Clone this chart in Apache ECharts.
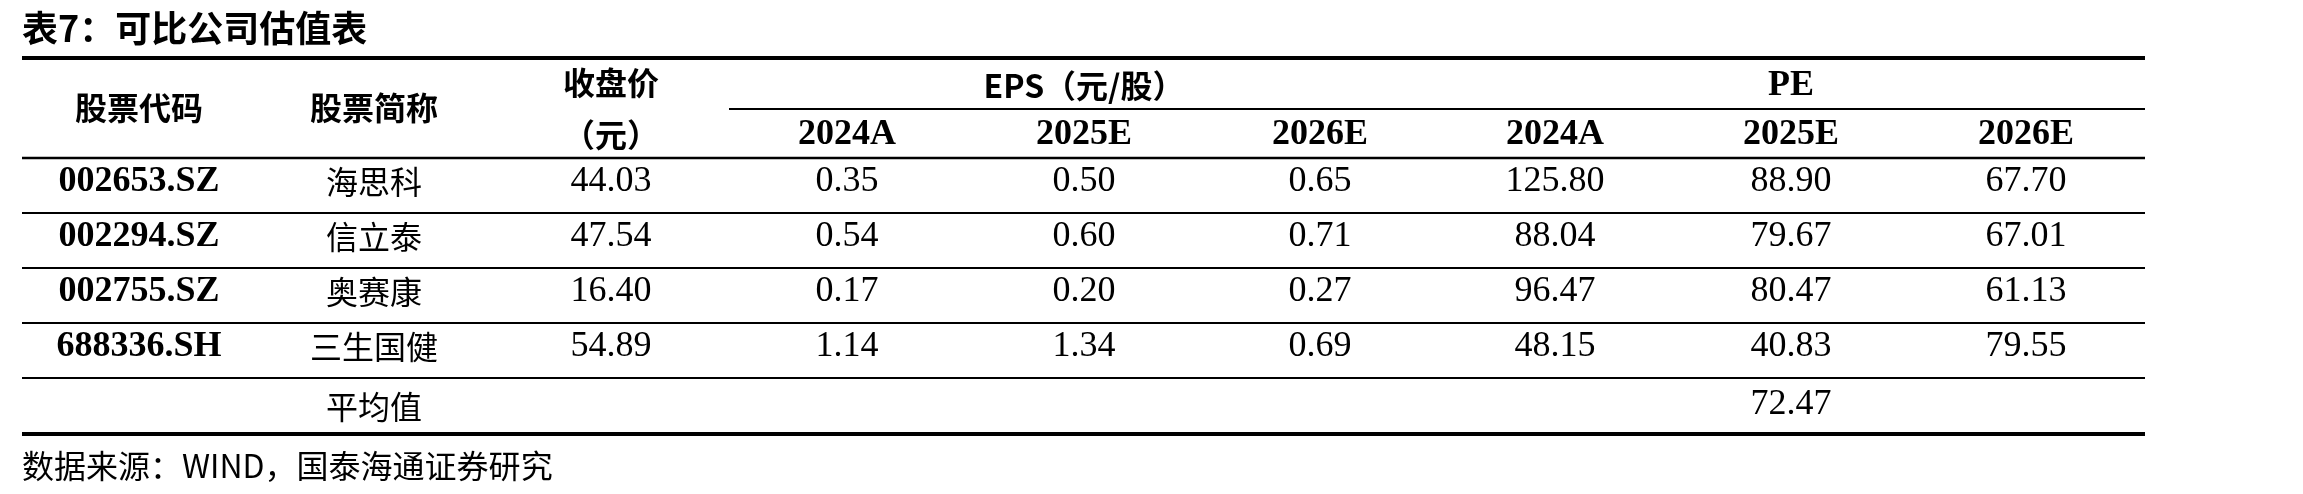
<!DOCTYPE html>
<html><head><meta charset="utf-8">
<script src="https://cdn.jsdelivr.net/npm/echarts@6/dist/echarts.min.js"></script>
<style>html,body{margin:0;padding:0;background:#fff}#c{width:2303px;height:494px}</style>
</head><body><div id="c"></div>
<script>
const title = '表7：可比公司估值表';
const source = '数据来源：WIND，国泰海通证券研究';
const codes = ['002653.SZ', '002294.SZ', '002755.SZ', '688336.SH'];
const names = ['海思科', '信立泰', '奥赛康', '三生国健'];
const closePrice = ['44.03', '47.54', '16.40', '54.89'];
const eps2024 = ['0.35', '0.54', '0.17', '1.14'];
const eps2025 = ['0.50', '0.60', '0.20', '1.34'];
const eps2026 = ['0.65', '0.71', '0.27', '0.69'];
const pe2024 = ['125.80', '88.04', '96.47', '48.15'];
const pe2025 = ['88.90', '79.67', '80.47', '40.83'];
const pe2026 = ['67.70', '67.01', '61.13', '79.55'];
const avgLabel = '平均值';
const avgPe2025 = '72.47';
const years = ['2024A', '2025E', '2026E'];

const chart = echarts.init(document.getElementById('c'));
const colX = [139, 374, 611, 847, 1084, 1320, 1555, 1791, 2026];
const rowY = [182, 237, 292, 347];
const L = 22, R = 2145;
const serif = '"Liberation Serif", "Times New Roman", serif';
const cjk = '"Noto Sans CJK SC", sans-serif';
const g = [];
function txt(x, y, s, font, size, bold) {
  g.push({ type: 'text', x: x, y: y, style: { text: s, font: (bold ? 'bold ' : '') + size + 'px ' + font,
    textAlign: 'center', textVerticalAlign: 'middle', fill: '#000' } });
}
function line(x1, x2, y, w) {
  g.push({ type: 'line', shape: { x1: x1, y1: y, x2: x2, y2: y }, style: { stroke: '#000', lineWidth: w } });
}
g.push({ type: 'text', x: L, y: 28, style: { text: title, font: 'bold 36px ' + cjk, textVerticalAlign: 'middle', fill: '#000' } });
line(L, R, 58, 4);
line(729, R, 109, 2);
line(L, R, 158, 2.5);
[213, 268, 323, 378].forEach(y => line(L, R, y, 2));
line(L, R, 434, 4);
txt(colX[0], 108, '股票代码', cjk, 32, true);
txt(colX[1], 108, '股票简称', cjk, 32, true);
txt(colX[2], 83, '收盘价', cjk, 32, true);
txt(colX[2], 135, '（元）', cjk, 32, true);
txt(colX[4], 86, 'EPS（元/股）', cjk, 32, true);
txt(colX[7], 86, 'PE', serif, 36, true);
years.forEach((y, i) => { txt(colX[3 + i], 135, y, serif, 36, true); txt(colX[6 + i], 135, y, serif, 36, true); });
const cols = [closePrice, eps2024, eps2025, eps2026, pe2024, pe2025, pe2026];
codes.forEach((c, r) => {
  txt(colX[0], rowY[r], c, serif, 36, true);
  txt(colX[1], rowY[r], names[r], cjk, 32, false);
  cols.forEach((arr, k) => txt(colX[2 + k], rowY[r], arr[r], serif, 36, false));
});
txt(colX[1], 407, avgLabel, cjk, 32, false);
txt(colX[7], 405, avgPe2025, serif, 36, false);
g.push({ type: 'text', x: L, y: 466, style: { text: source, font: '32px ' + cjk, textVerticalAlign: 'middle', fill: '#000' } });
chart.setOption({ animation: false, graphic: g });
</script></body></html>
